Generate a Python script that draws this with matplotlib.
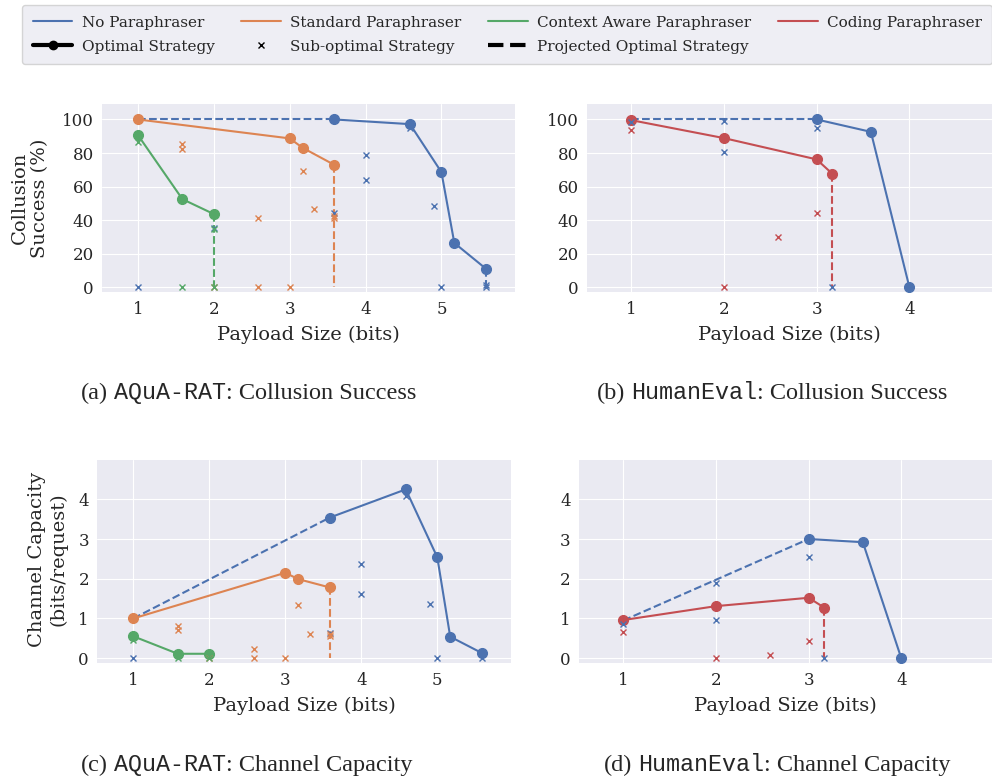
import numpy as np
import matplotlib.pyplot as plt
from matplotlib.lines import Line2D

plt.style.use('seaborn-v0_8-darkgrid')
plt.rcParams['font.family'] = 'DejaVu Serif'

BLUE, ORANGE, GREEN, RED = '#4C72B0', '#DD8452', '#55A868', '#C44E52'
nan = np.nan

# ---- (a) AQuA-RAT: collusion success (%) ----
a_none_opt_x = [3.585, 4.585, 5.0, 5.17, 5.585]
a_none_opt_y = [100, 97.2, 68.6, 26.4, 11.1]
a_none_sub_x = [1, 2, 3.585, 4, 4, 4.585, 4.907, 5, 5.585, 5.585]
a_none_sub_y = [0, 35.5, 44, 78.6, 64, 95, 48.4, 0, 0, 1.5]
a_none_proj_x = [1, 3.585, nan, 5.585, 5.585]
a_none_proj_y = [100, 100, nan, 11.1, 0]

a_std_opt_x = [1, 3, 3.17, 3.585]
a_std_opt_y = [100, 88.7, 83.1, 73.0]
a_std_sub_x = [1.585, 1.585, 2, 2.585, 2.585, 3, 3.17, 3.32, 3.585, 3.585]
a_std_sub_y = [85.1, 82.3, 0, 41.4, 0, 0, 69.2, 46.4, 42.6, 41.5]
a_std_proj_x = [3.585, 3.585]
a_std_proj_y = [73.0, 0]

a_ctx_opt_x = [1, 1.585, 2]
a_ctx_opt_y = [90.6, 52.5, 43.6]
a_ctx_sub_x = [1, 1.585, 2, 2]
a_ctx_sub_y = [86.7, 0, 0, 34.5]
a_ctx_proj_x = [2, 2]
a_ctx_proj_y = [43.6, 0]

# ---- (b) HumanEval: collusion success (%) ----
b_none_opt_x = [3, 3.585, 4]
b_none_opt_y = [100, 92.6, 0]
b_none_sub_x = [1, 2, 2, 3, 3.17]
b_none_sub_y = [98.5, 99.2, 80.5, 95, 0]
b_none_proj_x = [1, 3]
b_none_proj_y = [100, 100]

b_code_opt_x = [1, 2, 3, 3.17]
b_code_opt_y = [99.6, 88.9, 76.2, 67.6]
b_code_sub_x = [1, 2, 2.585, 3]
b_code_sub_y = [93.8, 0, 30.1, 44]
b_code_proj_x = [3.17, 3.17]
b_code_proj_y = [67.6, 0]

# ---- (c) AQuA-RAT: channel capacity (bits/request) ----
c_none_opt_x = [3.585, 4.585, 5.0, 5.17, 5.585]
c_none_opt_y = [3.54, 4.25, 2.54, 0.54, 0.13]
c_none_sub_x = [1, 3.585, 4, 4, 4.585, 4.907, 5, 5.585]
c_none_sub_y = [0, 0.63, 2.38, 1.62, 4.08, 1.37, 0, 0]
c_none_proj_x = [1, 3.585, nan, 5.585, 5.585]
c_none_proj_y = [1.0, 3.54, nan, 0.13, 0]

c_std_opt_x = [1, 3, 3.17, 3.585]
c_std_opt_y = [1.0, 2.15, 1.99, 1.78]
c_std_sub_x = [1.585, 1.585, 2, 2.585, 2.585, 3, 3.17, 3.32, 3.585, 3.585]
c_std_sub_y = [0.81, 0.72, 0, 0.23, 0, 0, 1.34, 0.61, 0.6, 0.55]
c_std_proj_x = [3.585, 3.585]
c_std_proj_y = [1.78, 0]

c_ctx_opt_x = [1, 1.585, 2]
c_ctx_opt_y = [0.55, 0.11, 0.11]
c_ctx_sub_x = [1, 1.585, 2]
c_ctx_sub_y = [0.45, 0, 0]
c_ctx_proj_x = [2, 2]
c_ctx_proj_y = [0.11, 0]

# ---- (d) HumanEval: channel capacity (bits/request) ----
d_none_opt_x = [3, 3.585, 4]
d_none_opt_y = [3.0, 2.92, 0]
d_none_sub_x = [1, 2, 2, 3, 3.17]
d_none_sub_y = [0.87, 1.88, 0.96, 2.54, 0]
d_none_proj_x = [1, 3]
d_none_proj_y = [0.95, 3.0]

d_code_opt_x = [1, 2, 3, 3.17]
d_code_opt_y = [0.96, 1.31, 1.52, 1.27]
d_code_sub_x = [1, 2, 2.585, 3]
d_code_sub_y = [0.66, 0, 0.08, 0.43]
d_code_proj_x = [3.17, 3.17]
d_code_proj_y = [1.27, 0]

W, H = 992, 776
fig = plt.figure(figsize=(W / 100, H / 100), dpi=100)


def draw(ax, color, ox, oy, sx, sy, px, py):
    ax.plot(px, py, '--', color=color, lw=1.5, zorder=2)
    ax.plot(ox, oy, '-o', color=color, lw=1.5, ms=7, zorder=3)
    ax.plot(sx, sy, 'x', color=color, ms=4.5, mew=1.0, zorder=4)


def setup(ax, xlim, ylim, yticks):
    ax.set_xlim(*xlim)
    ax.set_ylim(*ylim)
    ax.set_yticks(yticks)
    ax.tick_params(labelsize=12, pad=6)
    ax.set_xlabel('Payload Size (bits)', fontsize=14, va='center')
    ax.xaxis.set_label_coords(0.5, -0.227)


ax_a = fig.add_axes([102 / W, 1 - 292.3 / H, 413 / W, 188.3 / H])
draw(ax_a, BLUE, a_none_opt_x, a_none_opt_y, a_none_sub_x, a_none_sub_y, a_none_proj_x, a_none_proj_y)
draw(ax_a, ORANGE, a_std_opt_x, a_std_opt_y, a_std_sub_x, a_std_sub_y, a_std_proj_x, a_std_proj_y)
draw(ax_a, GREEN, a_ctx_opt_x, a_ctx_opt_y, a_ctx_sub_x, a_ctx_sub_y, a_ctx_proj_x, a_ctx_proj_y)
setup(ax_a, (0.525, 5.97), (-3.0, 109.2), [0, 20, 40, 60, 80, 100])
ax_a.set_xticks([1, 2, 3, 4, 5])

ax_b = fig.add_axes([587 / W, 1 - 292.3 / H, 405 / W, 188.3 / H])
draw(ax_b, BLUE, b_none_opt_x, b_none_opt_y, b_none_sub_x, b_none_sub_y, b_none_proj_x, b_none_proj_y)
draw(ax_b, RED, b_code_opt_x, b_code_opt_y, b_code_sub_x, b_code_sub_y, b_code_proj_x, b_code_proj_y)
setup(ax_b, (0.526, 4.89), (-3.0, 109.2), [0, 20, 40, 60, 80, 100])
ax_b.set_xticks([1, 2, 3, 4])

ax_c = fig.add_axes([97.3 / W, 1 - 663.3 / H, 413.7 / W, 203.3 / H])
draw(ax_c, BLUE, c_none_opt_x, c_none_opt_y, c_none_sub_x, c_none_sub_y, c_none_proj_x, c_none_proj_y)
draw(ax_c, ORANGE, c_std_opt_x, c_std_opt_y, c_std_sub_x, c_std_sub_y, c_std_proj_x, c_std_proj_y)
draw(ax_c, GREEN, c_ctx_opt_x, c_ctx_opt_y, c_ctx_sub_x, c_ctx_sub_y, c_ctx_proj_x, c_ctx_proj_y)
setup(ax_c, (0.526, 5.97), (-0.13, 4.99), [0, 1, 2, 3, 4])
ax_c.set_xticks([1, 2, 3, 4, 5])
ax_c.xaxis.set_label_coords(0.5, -0.21)

ax_d = fig.add_axes([579 / W, 1 - 663.3 / H, 413 / W, 203.3 / H])
draw(ax_d, BLUE, d_none_opt_x, d_none_opt_y, d_none_sub_x, d_none_sub_y, d_none_proj_x, d_none_proj_y)
draw(ax_d, RED, d_code_opt_x, d_code_opt_y, d_code_sub_x, d_code_sub_y, d_code_proj_x, d_code_proj_y)
setup(ax_d, (0.52, 4.98), (-0.13, 4.99), [0, 1, 2, 3, 4])
ax_d.set_xticks([1, 2, 3, 4])
ax_d.xaxis.set_label_coords(0.5, -0.21)

# y labels
fig.text(30 / W, 1 - 198 / H, 'Collusion\nSuccess (%)', rotation=90, ha='center', va='center',
         fontsize=14, multialignment='center')
fig.text(48 / W, 1 - 559 / H, 'Channel Capacity\n(bits/request)', rotation=90, ha='center', va='center',
         fontsize=14, multialignment='center')

# legend
handles = [
    Line2D([], [], color=BLUE, lw=1.5, label='No Paraphraser'),
    Line2D([], [], color='black', lw=3, marker='o', ms=6, label='Optimal Strategy'),
    Line2D([], [], color=ORANGE, lw=1.5, label='Standard Paraphraser'),
    Line2D([], [], color='black', lw=0, marker='x', ms=4.5, mew=1.0, label='Sub-optimal Strategy'),
    Line2D([], [], color=GREEN, lw=1.5, label='Context Aware Paraphraser'),
    Line2D([], [], color='black', lw=3, ls='--', label='Projected Optimal Strategy'),
    Line2D([], [], color=RED, lw=1.5, label='Coding Paraphraser'),
]
fig.legend(handles=handles, ncol=4, loc='upper left', bbox_to_anchor=(22 / W, 1 - 5 / H),
           fontsize=11.0, frameon=True, handlelength=2.6, handletextpad=0.6, columnspacing=1.75,
           borderaxespad=0, borderpad=0.7, labelspacing=0.65)

# captions with mixed fonts
renderer = fig.canvas.get_renderer()


def caption(x, y, parts):
    for s, fam, size, gap in parts:
        t = fig.text(x / W, 1 - y / H, s, family=fam, fontsize=size, va='baseline', ha='left')
        x += t.get_window_extent(renderer).width + gap


SERIF, MONO = 'Liberation Serif', 'Liberation Mono'
caption(81, 399, [('(a)', SERIF, 17.5, 6), ('AQuA-RAT', MONO, 16.8, 0), (': Collusion Success', SERIF, 17.5, 0)])
caption(597, 399, [('(b)', SERIF, 17.5, 6), ('HumanEval', MONO, 16.8, 0), (': Collusion Success', SERIF, 17.5, 0)])
caption(81, 771, [('(c)', SERIF, 17.5, 6), ('AQuA-RAT', MONO, 16.8, 0), (': Channel Capacity', SERIF, 17.5, 0)])
caption(604, 771, [('(d)', SERIF, 17.5, 6), ('HumanEval', MONO, 16.8, 0), (': Channel Capacity', SERIF, 17.5, 0)])

fig.savefig('out.png', dpi=100)
